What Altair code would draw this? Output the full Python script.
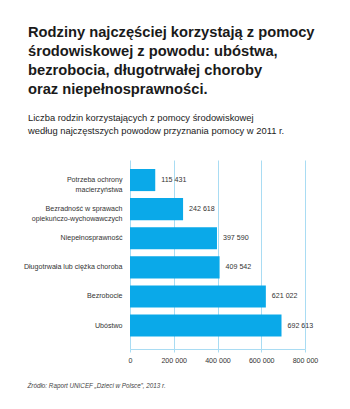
import altair as alt
import pandas as pd

categories = [
    "Potrzeba ochrony|macierzyństwa",
    "Bezradność w sprawach|opiekuńczo-wychowawczych",
    "Niepełnosprawność",
    "Długotrwała lub ciężka choroba",
    "Bezrobocie",
    "Ubóstwo",
]
values = [115431, 242618, 397590, 409542, 621022, 692613]
x_ticks = [0, 200000, 400000, 600000, 800000]

title_lines = [
    "Rodziny najczęściej korzystają z pomocy",
    "środowiskowej z powodu: ubóstwa,",
    "bezrobocia, długotrwałej choroby",
    "oraz niepełnosprawności.",
]
subtitle_lines = [
    "Liczba rodzin korzystających z pomocy środowiskowej",
    "według najczęstszych powodow przyznania pomocy w 2011 r.",
]
source_text = "Źródło: Raport UNICEF \u201eDzieci w Polsce\u201d, 2013 r."

df = pd.DataFrame({"cat": categories, "val": values})

NARROW = "Liberation Sans Narrow, Arial Narrow, Liberation Sans, sans-serif"
BAR = "#0aa9e9"
GRID = "#a9dcf3"
LAB = 7.1

y_enc = alt.Y(
    "cat:N",
    sort=categories,
    title=None,
    scale=alt.Scale(paddingInner=0.24, paddingOuter=0.3675, align=0.42),
    axis=alt.Axis(
        labelExpr="split(datum.label, '|')",
        labelFont=NARROW,
        labelFontSize=LAB,
        labelColor="#333333",
        labelPadding=8,
        labelLineHeight=10,
        ticks=False,
        domain=False,
        grid=False,
    ),
)

x_enc = alt.X(
    "val:Q",
    scale=alt.Scale(domain=[0, 800000], nice=False),
    axis=alt.Axis(
        values=x_ticks,
        labelExpr="replace(format(datum.value, ','), ',', ' ')",
        labelFont=NARROW,
        labelFontSize=LAB,
        labelColor="#333333",
        labelPadding=4,
        labelOverlap=False,
        labelFlush=False,
        domainColor=GRID,
        tickColor=GRID,
        tickSize=3,
        gridColor=GRID,
        gridWidth=1,
        title=source_text,
        titleFont=NARROW,
        titleFontSize=6.3,
        titleFontStyle="italic",
        titleFontWeight="normal",
        titleColor="#444444",
        titleAnchor="start",
        titleAlign="left",
        titleX=-103,
        titleY=33,
    ),
)

bars = alt.Chart(df).mark_bar(color=BAR).encode(x=x_enc, y=y_enc)

labels = (
    alt.Chart(df)
    .transform_calculate(lab="replace(format(datum.val, ','), ',', ' ')")
    .mark_text(align="left", baseline="middle", dx=6, font=NARROW, fontSize=LAB, color="#333333")
    .encode(x="val:Q", y=alt.Y("cat:N", sort=categories), text="lab:N")
)

chart = (
    alt.layer(bars, labels)
    .properties(
        width=175,
        height=189,
        autosize=alt.AutoSizeParams(type="none"),
        padding={"left": 130, "top": 160, "right": 45, "bottom": 60},
        background="white",
        title=alt.TitleParams(
            text=title_lines,
            subtitle=subtitle_lines,
            anchor="start",
            frame="group",
            dx=-102,
            offset=25,
            font="Liberation Sans, Arial, sans-serif",
            fontSize=14.7,
            fontWeight="bold",
            color="#1a1a1a",
            lineHeight=19,
            subtitleFont=NARROW,
            subtitleFontSize=9.4,
            subtitleColor="#222222",
            subtitleLineHeight=13,
            subtitlePadding=17,
        ),
    )
    .configure_view(stroke=None)
)

chart.save("out.html", embed_options={"renderer": "svg", "actions": False})
